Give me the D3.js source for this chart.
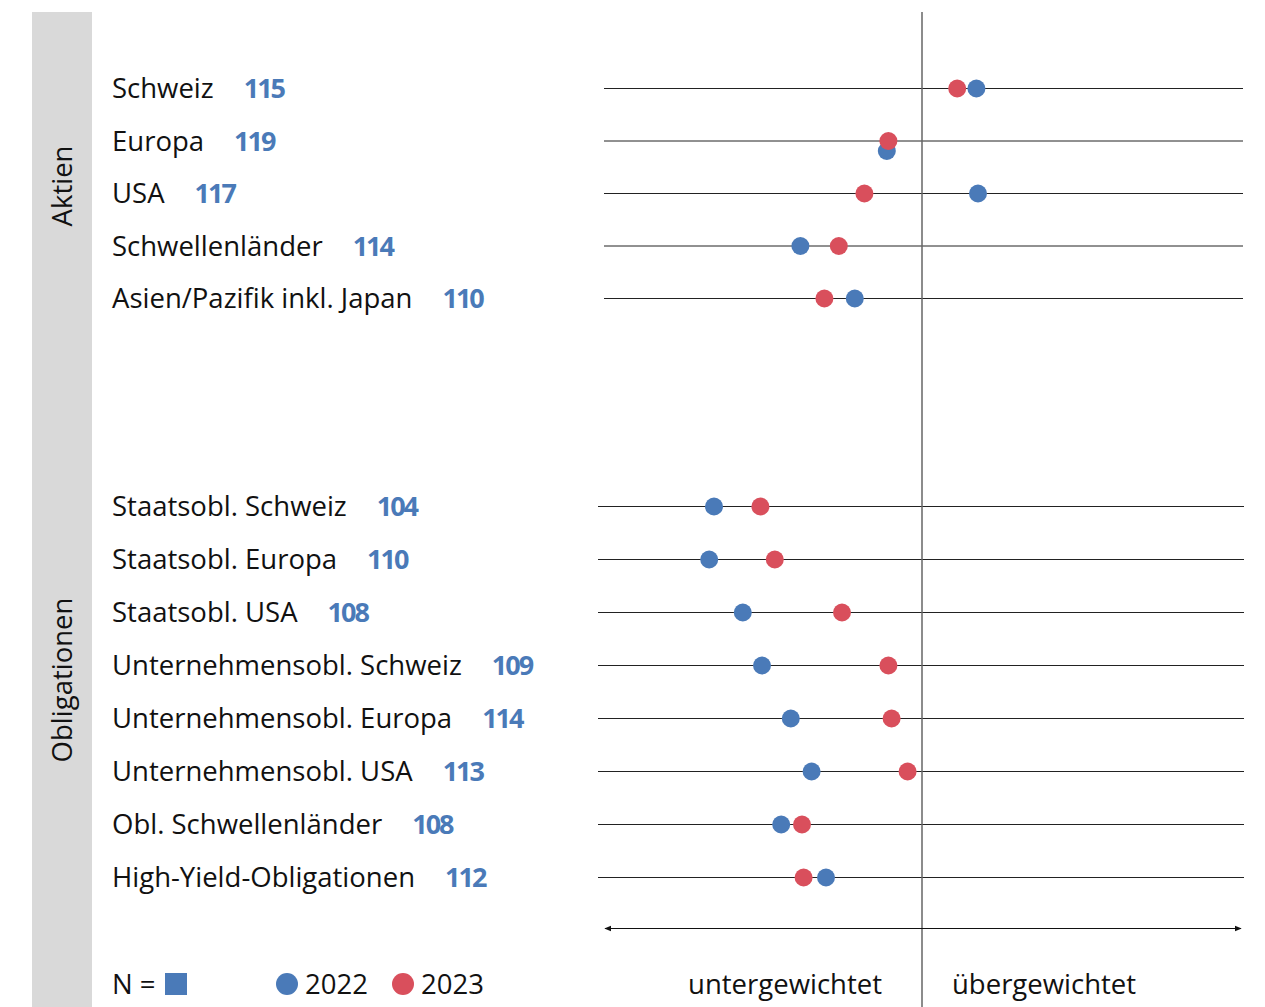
<!DOCTYPE html>
<html><head><meta charset="utf-8">
<script src="https://cdn.jsdelivr.net/npm/d3@7"></script>
<style>
html,body{margin:0;padding:0;background:#fff;}
svg{display:block;}
text{font-family:"Open Sans","Noto Sans",sans-serif;fill:#111;}
</style></head>
<body>
<svg id="chart" width="1265" height="1007"></svg>
<script>
// ---- data ----
const groups = ["Aktien", "Obligationen"];
const aktienCategories = ["Schweiz", "Europa", "USA", "Schwellenländer", "Asien/Pazifik inkl. Japan"];
const aktienN = [115, 119, 117, 114, 110];
const aktien2022 = [17, -11, 17.5, -38, -21];
const aktien2023 = [11, -10.5, -18, -26, -30.5];

const oblCategories = ["Staatsobl. Schweiz", "Staatsobl. Europa", "Staatsobl. USA", "Unternehmensobl. Schweiz", "Unternehmensobl. Europa", "Unternehmensobl. USA", "Obl. Schwellenländer", "High-Yield-Obligationen"];
const oblN = [104, 110, 108, 109, 114, 113, 108, 112];
const obl2022 = [-65, -66.5, -56, -50, -41, -34.5, -44, -30];
const obl2023 = [-50.5, -46, -25, -10.5, -9.5, -4.5, -37.5, -37];

const years = ["2022", "2023"];
const axisLabels = ["untergewichtet", "übergewichtet"];
const nLabel = "N =";

// ---- style ----
const blue = "#4a7ab8", red = "#d94f5c";
const fs = "27.5px";
const svg = d3.select("#chart");
const x = d3.scaleLinear().domain([-100, 100]).range([602, 1242]);

// grey panel
svg.append("rect").attr("x", 32).attr("y", 12).attr("width", 60).attr("height", 995).attr("fill", "#d9d9d9");

const sections = [
  {name: groups[0], cats: aktienCategories, n: aktienN, a: aktien2022, b: aktien2023, yr: [88.5, 298.5], lx: [604, 1243], gy: 186},
  {name: groups[1], cats: oblCategories, n: oblN, a: obl2022, b: obl2023, yr: [506.5, 877.5], lx: [598, 1244], gy: 680}
];

sections.forEach(s => {
  const y = d3.scalePoint().domain(s.cats).range(s.yr);
  svg.append("text").attr("transform", `translate(62,${s.gy}) rotate(-90)`)
    .attr("text-anchor", "middle").attr("dy", "0.36em").style("font-size", fs).text(s.name);
  svg.append("g").selectAll("line").data(s.cats).join("line")
    .attr("x1", s.lx[0]).attr("x2", s.lx[1]).attr("y1", d => y(d)).attr("y2", d => y(d))
    .attr("stroke", "#222").attr("stroke-width", 1);
  s.cats.forEach((c, i) => {
    const t = svg.append("text").attr("x", 112).attr("y", y(c)).attr("dy", "0.36em")
      .style("font-size", fs).text(c);
    const w = t.node().getComputedTextLength();
    svg.append("text").attr("x", 112 + w + 30).attr("y", y(c)).attr("dy", "0.36em")
      .style("font-size", "27px").style("font-weight", "bold").style("letter-spacing", "-2px")
      .style("fill", blue).text(s.n[i]);
  });
  s.y = y;
});

// vertical zero line
svg.append("line").attr("x1", x(0)).attr("x2", x(0)).attr("y1", 12).attr("y2", 1007)
  .attr("stroke", "#666").attr("stroke-width", 1.5);

sections.forEach(s => {
  const y = s.y;
  svg.append("g").selectAll("circle").data(s.cats).join("circle")
    .attr("cx", (d, i) => x(s.a[i]))
    .attr("cy", (d, i) => y(d) + (Math.abs(s.a[i] - s.b[i]) < 2 ? 10 : 0))
    .attr("r", 9).attr("fill", blue);
  svg.append("g").selectAll("circle").data(s.cats).join("circle")
    .attr("cx", (d, i) => x(s.b[i])).attr("cy", d => y(d))
    .attr("r", 9).attr("fill", red);
});

// arrow
const defs = svg.append("defs");
defs.append("marker").attr("id", "ah").attr("viewBox", "0 0 10 10").attr("refX", 9).attr("refY", 5)
  .attr("markerWidth", 7).attr("markerHeight", 7).attr("orient", "auto-start-reverse")
  .append("path").attr("d", "M0,1 L10,5 L0,9 Z").attr("fill", "#111");
svg.append("line").attr("x1", 605).attr("x2", 1241).attr("y1", 928.5).attr("y2", 928.5)
  .attr("stroke", "#111").attr("stroke-width", 1)
  .attr("marker-start", "url(#ah)").attr("marker-end", "url(#ah)");

svg.append("text").attr("x", x(0) - 40).attr("y", 984).attr("dy", "0.36em").attr("text-anchor", "end")
  .style("font-size", fs).text(axisLabels[0]);
svg.append("text").attr("x", x(0) + 30).attr("y", 984).attr("dy", "0.36em")
  .style("font-size", fs).text(axisLabels[1]);

// legend
svg.append("text").attr("x", 112).attr("y", 984).attr("dy", "0.36em").style("font-size", fs).text(nLabel);
svg.append("rect").attr("x", 165).attr("y", 973).attr("width", 22).attr("height", 22).attr("fill", blue);
const lg = [{c: blue, x: 287}, {c: red, x: 403}];
lg.forEach((l, i) => {
  svg.append("circle").attr("cx", l.x).attr("cy", 984).attr("r", 11).attr("fill", l.c);
  svg.append("text").attr("x", l.x + 18).attr("y", 984).attr("dy", "0.36em").style("font-size", fs).text(years[i]);
});
</script>
</body></html>
